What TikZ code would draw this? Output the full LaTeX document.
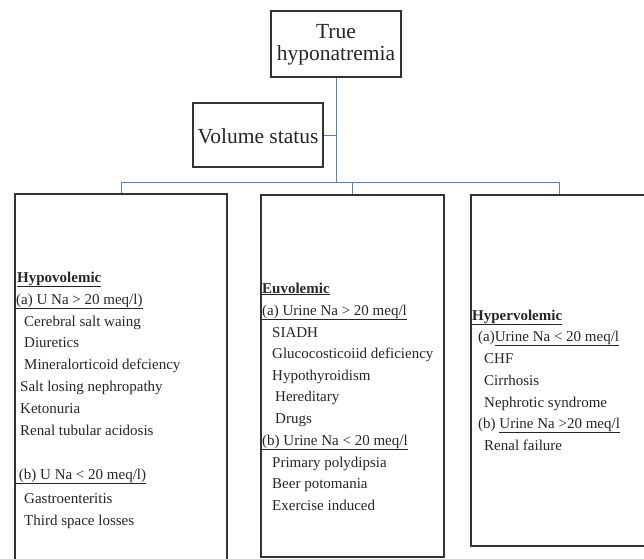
\documentclass[tikz,border=0pt]{standalone}
\usepackage{fontspec}
\setmainfont{Liberation Serif}
\usetikzlibrary{shadows}
\definecolor{connblue}{HTML}{5B80B9}
\definecolor{boxline}{HTML}{333333}
\definecolor{txtcol}{HTML}{262626}
\tikzset{
  boxstyle/.style={draw=boxline, line width=1.3pt, fill=white, rectangle, inner sep=0pt,
    drop shadow={shadow xshift=1.2pt, shadow yshift=-1.2pt, opacity=0.35, fill=black!60}},
  conn/.style={draw=connblue, line width=0.9pt},
  txt/.style={anchor=base west, inner sep=0pt, text=txtcol, font=\fontsize{15}{18}\selectfont},
  bigtxt/.style={text=txtcol, font=\fontsize{21.5}{22.5}\selectfont, align=center, inner sep=0pt}
}
\begin{document}
\begin{tikzpicture}[x=1pt, y=-1pt]
\useasboundingbox (0,0) rectangle (644,558);
\clip (0,0) rectangle (644,558);
\fill[white] (0,0) rectangle (644,558);

% boxes
\node[boxstyle, minimum width=130pt, minimum height=66pt] (top) at (336,44) {};
\node[bigtxt] (toptext) at (336,45) {True\\hyponatremia};
\node[boxstyle, minimum width=130pt, minimum height=64pt] (vol) at (258,135) {};
\node[bigtxt] (voltext) at (258,136) {Volume status};
\node[boxstyle, minimum width=212pt, minimum height=380pt] (hypo) at (121,384) {};
\node[boxstyle, minimum width=183pt, minimum height=362pt] (eu) at (352.5,376) {};
\node[boxstyle, minimum width=176pt, minimum height=351pt] (hyper) at (559,370.5) {};

% connectors
\coordinate (j) at (336,182);
\draw[conn] (top.south) -- (j);
\draw[conn] (vol.east) -- (vol.east -| top.south);
\draw[conn] (hypo.north |- j) -- (hyper.north |- j);
\draw[conn] (hypo.north |- j) -- (hypo.north);
\draw[conn] (eu.north |- j) -- (eu.north);
\draw[conn] (hyper.north |- j) -- (hyper.north);

% hypovolemic text
\node[txt] (h1) at (17,282) {\textbf{\underline{Hypovolemic}}};
\node[txt] (h2) at (16,304) {\underline{(a) U Na > 20 meq/l)}};
\node[txt] (h3) at (24,326) {Cerebral salt waing};
\node[txt] (h4) at (24,347) {Diuretics};
\node[txt] (h5) at (24,369) {Mineralorticoid defciency};
\node[txt] (h6) at (20,391) {Salt losing nephropathy};
\node[txt] (h7) at (20,413) {Ketonuria};
\node[txt] (h8) at (20,435) {Renal tubular acidosis};
\node[txt] (h9) at (15,479) {\underline{\ (b) U Na < 20 meq/l)}};
\node[txt] (h10) at (24,503) {Gastroenteritis};
\node[txt] (h11) at (24,525) {Third space losses};

% euvolemic text
\node[txt] (e1) at (262,293) {\textbf{\underline{Euvolemic}}};
\node[txt] (e2) at (262,315) {\underline{(a) Urine Na > 20 meq/l}};
\node[txt] (e3) at (272,337) {SIADH};
\node[txt] (e4) at (272,358) {Glucocosticoiid deficiency};
\node[txt] (e5) at (272,380) {Hypothyroidism};
\node[txt] (e6) at (275,401) {Hereditary};
\node[txt] (e7) at (275,423) {Drugs};
\node[txt] (e8) at (262,445) {\underline{(b) Urine Na < 20 meq/l}};
\node[txt] (e9) at (272,467) {Primary polydipsia};
\node[txt] (e10) at (272,488) {Beer potomania};
\node[txt] (e11) at (272,510) {Exercise induced};

% hypervolemic text
\node[txt] (r1) at (472,320) {\textbf{\underline{Hypervolemic}}};
\node[txt] (r2) at (478,341) {(a)\underline{Urine Na < 20 meq/l}};
\node[txt] (r3) at (484,363) {CHF};
\node[txt] (r4) at (484,385) {Cirrhosis};
\node[txt] (r5) at (484,407) {Nephrotic syndrome};
\node[txt] (r6) at (478,428) {(b) \underline{Urine Na >20 meq/l}};
\node[txt] (r7) at (484,450) {Renal failure};
\end{tikzpicture}
\end{document}
